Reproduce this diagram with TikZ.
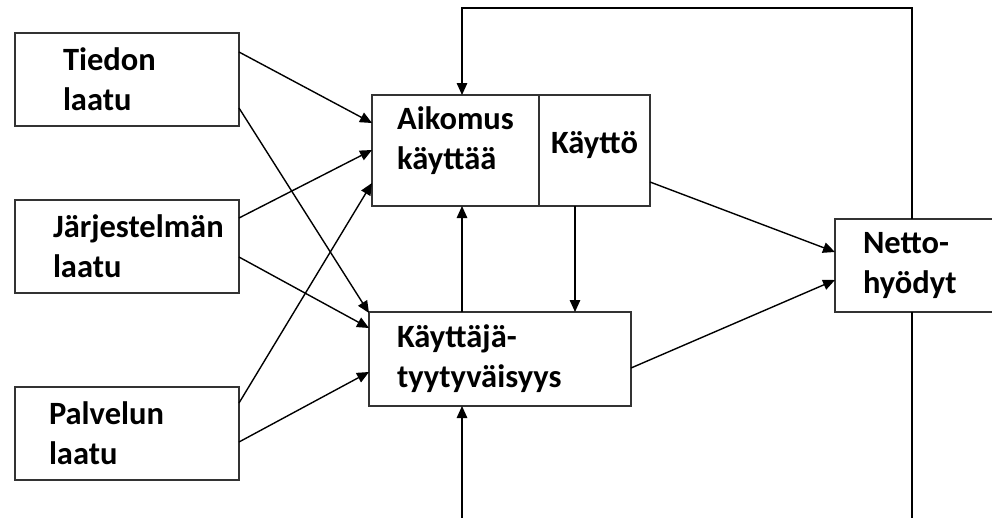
\documentclass[tikz,border=0pt]{standalone}
\usepackage{fontspec}
\setmainfont{Carlito}
\usetikzlibrary{shapes,arrows,arrows.meta,positioning,calc}

\begin{document}
\begin{tikzpicture}[x=1pt, y=-1pt,
    >={Triangle[length=12pt,width=10.5pt]},
    box/.style={rectangle, draw=black!80, line width=1.8pt, align=left,
        inner xsep=0pt, outer sep=0pt,
        font=\bfseries\fontsize{32.5}{40}\selectfont},
    link/.style={->, line width=1.4pt}]
    \useasboundingbox (0,0) rectangle (992,517);
    \clip (0,0) rectangle (992,517);

    % Quality boxes
    \node[box, anchor=north west, minimum width=224pt, minimum height=93pt, text width=128pt] (tiedon) at (15,33) {Tiedon\\laatu};
    \node[box, anchor=north west, minimum width=224pt, minimum height=93pt, text width=148pt] (jarj) at (15,200) {Järjestelmän\\laatu};
    \node[box, anchor=north west, minimum width=224pt, minimum height=93pt, text width=156pt] (palvelun) at (15,387) {Palvelun\\laatu};

    % Use and satisfaction
    \node[box, anchor=north west, minimum width=167pt, minimum height=111pt, text depth=25pt] (aikomus) at (372,95) {Aikomus\\käyttää};
    \node[box, minimum width=111pt, minimum height=111pt, text depth=17pt, right=0pt of aikomus] (kaytto) {Käyttö};
    \node[box, anchor=north west, minimum width=262pt, minimum height=94pt, text width=206pt] (kayttaja) at (369,312) {Käyttäjä-\\tyytyväisyys};
    \node[box, anchor=north west, minimum width=200pt, minimum height=93pt, text width=144pt] (netto) at (835,219) {Netto-\\hyödyt};

    % Quality links
    \draw[link] ([yshift=-19pt]tiedon.north east) -- ([yshift=-28pt]aikomus.north west);
    \draw[link] ([yshift=-75pt]tiedon.north east) -- ([yshift=-1pt]kayttaja.north west);
    \draw[link] ([yshift=-18pt]jarj.north east) -- ([yshift=-55pt]aikomus.north west);
    \draw[link] ([yshift=-57pt]jarj.north east) -- ([yshift=-16pt]kayttaja.north west);
    \draw[link] ([yshift=-16pt]palvelun.north east) -- ([yshift=-88pt]aikomus.north west);
    \draw[link] ([yshift=-55pt]palvelun.north east) -- ([yshift=-60pt]kayttaja.north west);

    % Middle links
    \draw[link] ([xshift=93pt]kayttaja.north west) -- ([xshift=90pt]aikomus.south west);
    \draw[link] ([xshift=36pt]kaytto.south west) -- ([xshift=36pt]kaytto.south west |- kayttaja.north);
    \draw[link] ([yshift=-87pt]kaytto.north east) -- ([yshift=-33pt]netto.north west);
    \draw[link] ([yshift=-56pt]kayttaja.north east) -- ([yshift=-61pt]netto.north west);

    % Feedback loops
    \coordinate (fbtop) at (700,8);
    \coordinate (fbbot) at (700,521);
    \draw[link] ([xshift=77pt]netto.north west) |- (fbtop) -| ([xshift=90pt]aikomus.north west);
    \draw[link] ([xshift=77pt]netto.south west) |- (fbbot) -| ([xshift=93pt]kayttaja.south west);
\end{tikzpicture}
\end{document}
